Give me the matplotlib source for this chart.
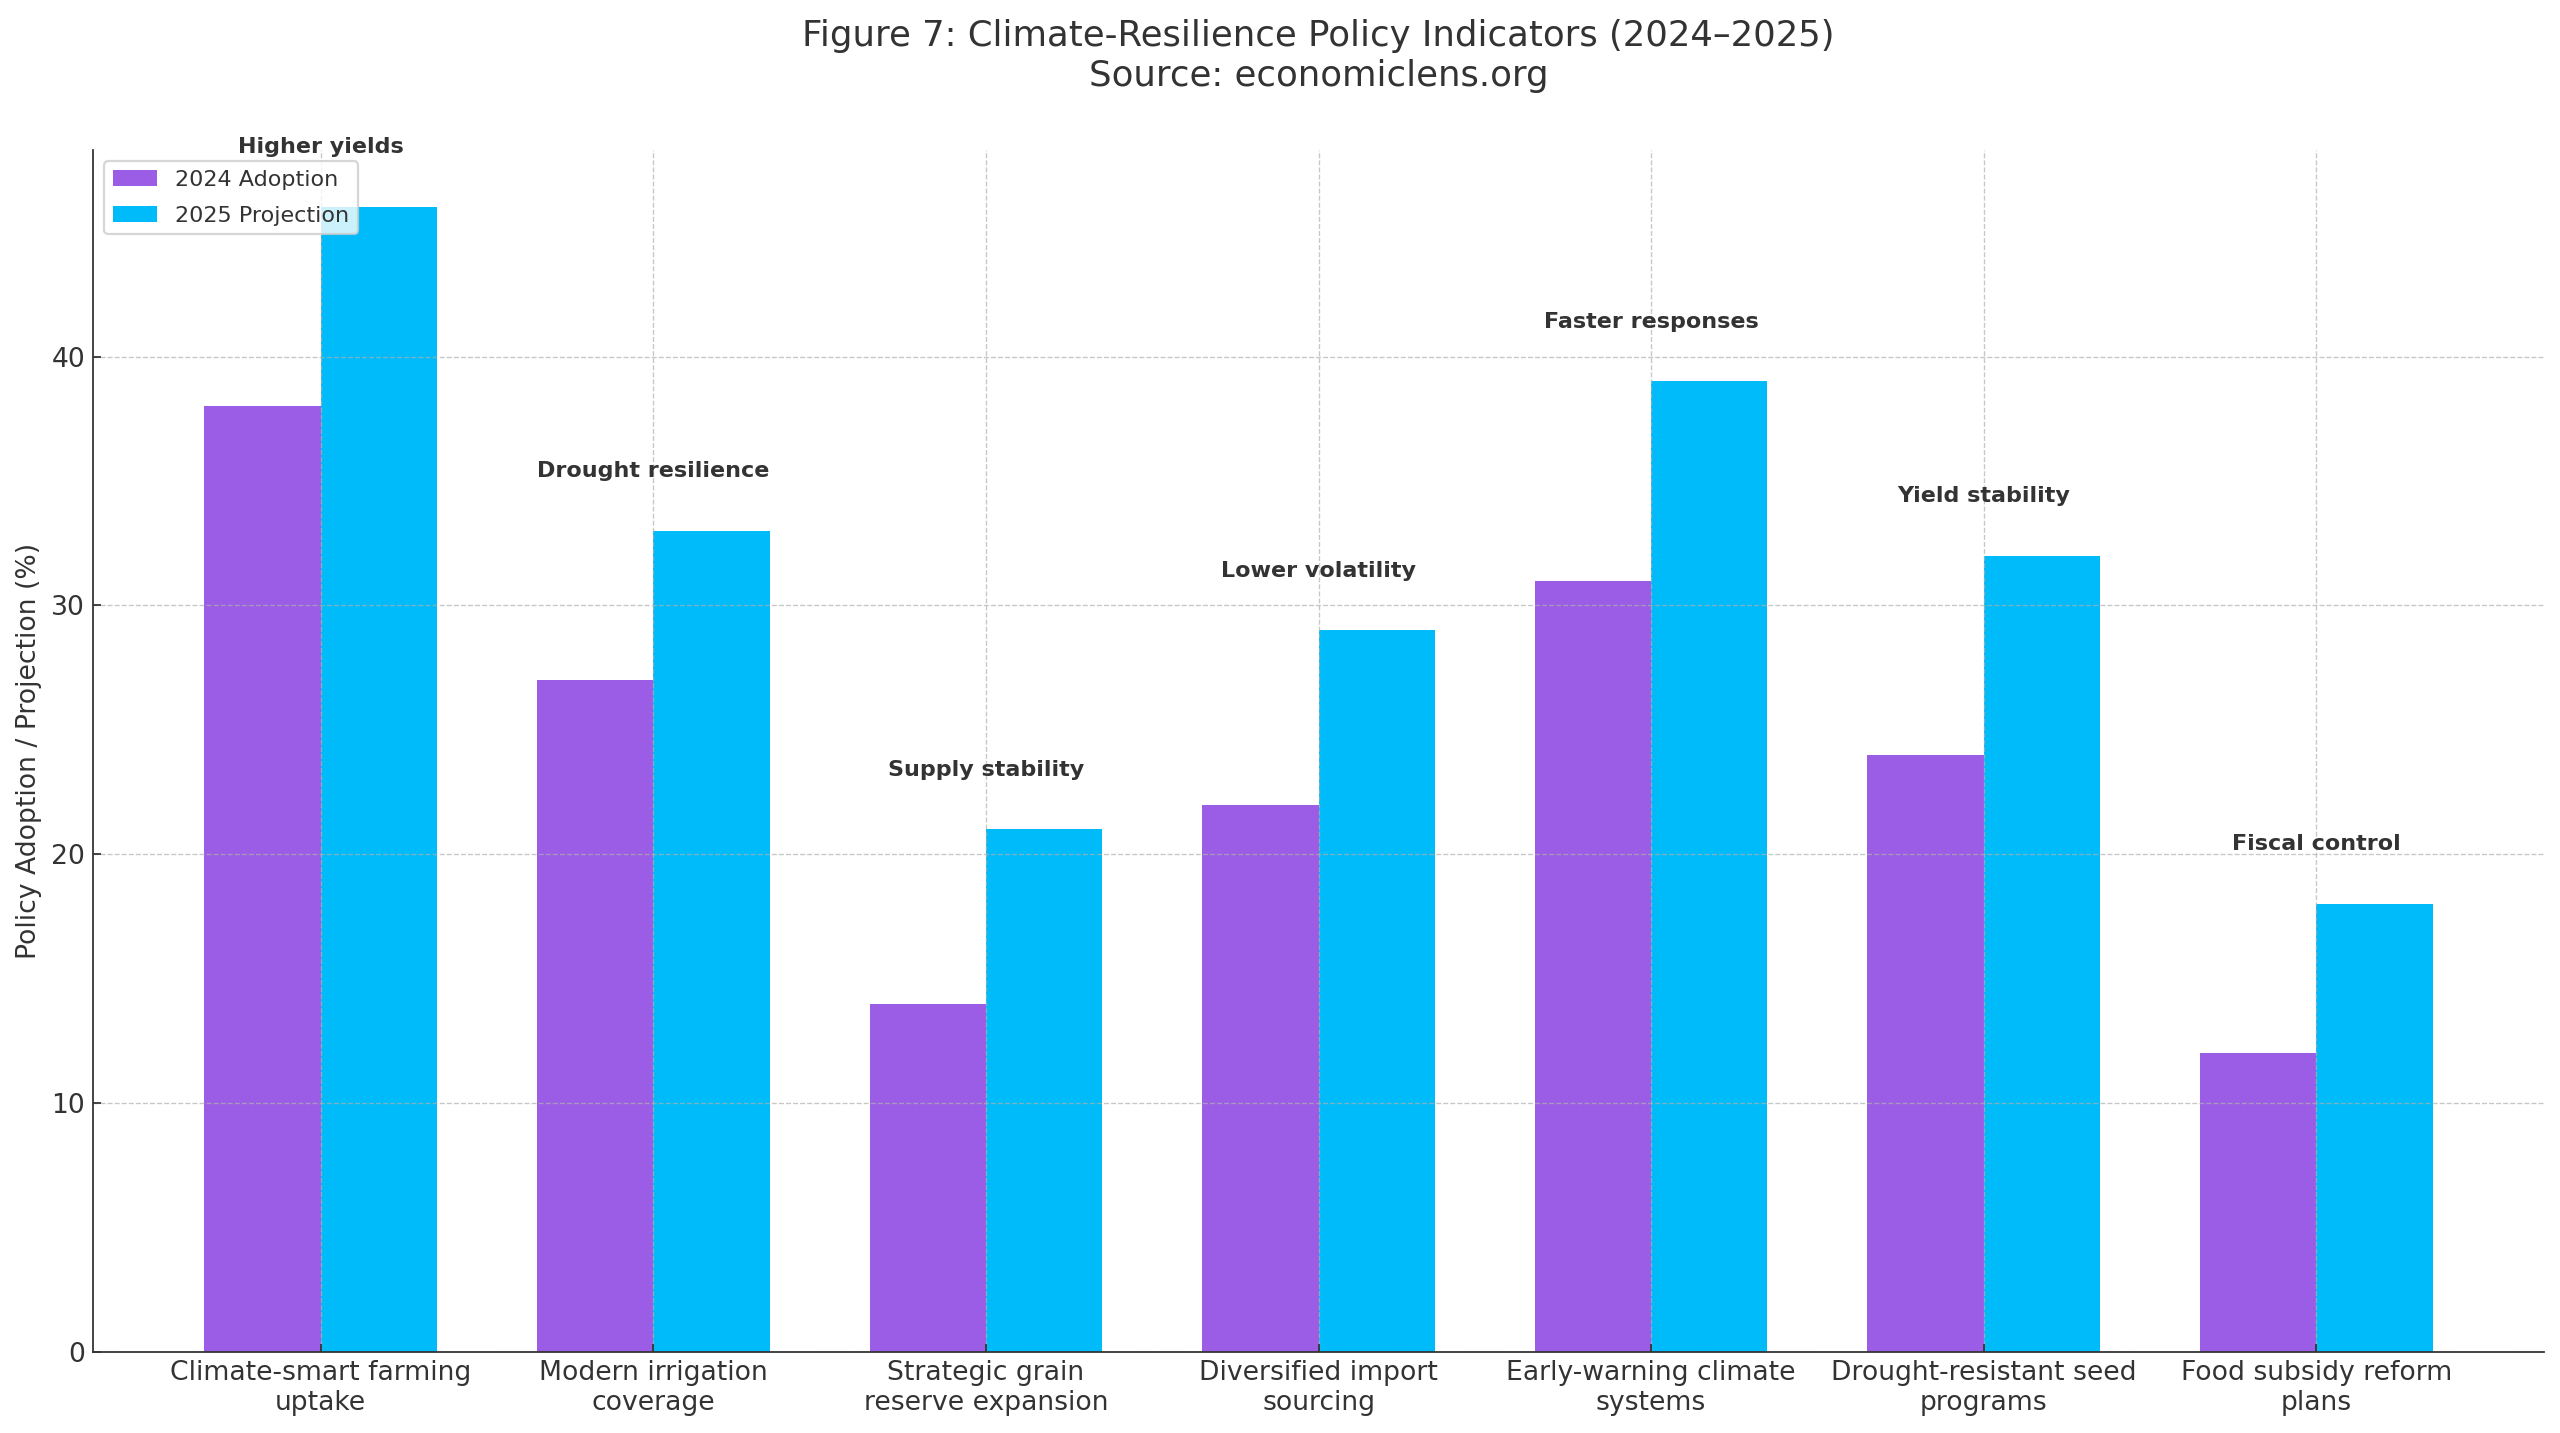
import numpy as np
import matplotlib.pyplot as plt

# Policy indicators and values (%)
categories = ['Climate-smart farming\nuptake', 'Modern irrigation\ncoverage',
              'Strategic grain\nreserve expansion', 'Diversified import\nsourcing',
              'Early-warning climate\nsystems', 'Drought-resistant seed\nprograms',
              'Food subsidy reform\nplans']
adoption_2024 = [38, 27, 14, 22, 31, 24, 12]
projection_2025 = [46, 33, 21, 29, 39, 32, 18]
benefits = ['Higher yields', 'Drought resilience', 'Supply stability', 'Lower volatility',
            'Faster responses', 'Yield stability', 'Fiscal control']

plt.rcParams['text.color'] = '#333333'
plt.rcParams['axes.labelcolor'] = '#333333'
plt.rcParams['xtick.color'] = '#333333'
plt.rcParams['ytick.color'] = '#333333'
plt.rcParams['axes.edgecolor'] = '#333333'
plt.rcParams['xtick.direction'] = 'in'
plt.rcParams['ytick.direction'] = 'in'

x = np.arange(len(categories))
width = 0.35

fig, ax = plt.subplots(figsize=(16, 1433 / 160), dpi=160)
fig.subplots_adjust(left=93 / 2560, right=2544 / 2560, top=1 - 150 / 1433, bottom=1 - 1352 / 1433)

ax.bar(x - width / 2, adoption_2024, width, label='2024 Adoption', color='#9B5DE5')
ax.bar(x + width / 2, projection_2025, width, label='2025 Projection', color='#00BBF9')

# Benefit annotations above each pair
for i, txt in enumerate(benefits):
    top = max(adoption_2024[i], projection_2025[i])
    ax.text(x[i], top + 2, txt, ha='center', va='bottom', fontsize=10, fontweight='bold', color='#333333')

ax.set_xticks(x)
ax.set_xticklabels(categories, fontsize=12)
ax.tick_params(axis='y', labelsize=12)
ax.set_ylabel('Policy Adoption / Projection (%)', fontsize=12)
ax.set_title('Figure 7: Climate-Resilience Policy Indicators (2024\u20132025)\nSource: economiclens.org',
             fontsize=16, pad=29)
ax.legend(loc='upper left', fontsize=10, labelspacing=0.7)
ax.grid(True, linestyle='--', linewidth=0.6, alpha=0.7)
ax.spines['top'].set_visible(False)
ax.spines['right'].set_visible(False)

fig.savefig('out.png', dpi=160)
